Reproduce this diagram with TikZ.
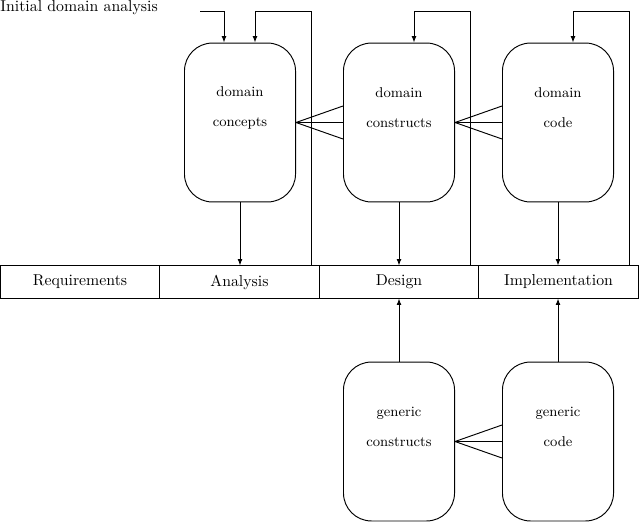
\documentclass[tikz,border=0pt]{standalone}
\usetikzlibrary{arrows.meta,calc}
\begin{document}
\begin{tikzpicture}[x=0.633pt,y=-0.633pt,
  line width=0.6pt,
  arr/.style={-{Latex[length=4pt,width=3pt]}},
  rbox/.style={draw,rounded corners=17.7pt,minimum width=70.3pt,minimum height=100.6pt,inner sep=0pt},
  cell/.style={draw,minimum width=101.1pt,minimum height=20.3pt,inner sep=0pt},
  lbl/.style={align=center,inner sep=0pt,font=\small}]
\useasboundingbox (0,0) rectangle (639,521);
% phase bar
\node[cell] (req) at (80,282) {Requirements};
\node[cell] (ana) at (239.5,282) {Analysis};
\node[cell] (des) at (399,282) {Design};
\node[cell] (imp) at (558.5,282) {Implementation};
% domain boxes
\node[rbox] (dcon) at (240,122.5) {};
\node[rbox] (dcst) at (399,122.5) {};
\node[rbox] (dcod) at (558,122.5) {};
\node[rbox] (gcst) at (399,441.5) {};
\node[rbox] (gcod) at (558,441.5) {};
\node[lbl] (t1) at (240,108) {domain\\[8pt]concepts};
\node[lbl] (t2) at (399,108) {domain\\[8pt]constructs};
\node[lbl] (t3) at (558,108) {domain\\[8pt]code};
\node[lbl] (t4) at (399,427) {generic\\[8pt]constructs};
\node[lbl] (t5) at (558,427) {generic\\[8pt]code};
% initial
\node[anchor=west,inner sep=0pt] (init) at (0,8) {Initial domain analysis};
\coordinate (i0) at (200,11);
\draw[arr] (i0) -| ($(dcon.north)+(-16,0)$);
% down arrows
\draw[arr] (dcon.south) -- (dcon.south |- ana.north);
\draw[arr] (dcst.south) -- (dcst.south |- des.north);
\draw[arr] (dcod.south) -- (dcod.south |- imp.north);
\draw[arr] (gcst.north) -- (gcst.north |- des.south);
\draw[arr] (gcod.north) -- (gcod.north |- imp.south);
% feedback loops
\coordinate (fa) at (311,11);
\coordinate (fd) at (470,11);
\coordinate (fi) at (629,11);
\draw[arr] (fa |- ana.north) -- (fa) -| ($(dcon.north)+(15,0)$);
\draw[arr] (fd |- des.north) -- (fd) -| ($(dcst.north)+(15,0)$);
\draw[arr] (fi |- imp.north) -- (fi) -| ($(dcod.north)+(15,0)$);
% crow's feet
\foreach \a/\b in {dcon/dcst,dcst/dcod,gcst/gcod}{
  \draw (\a.east) -- ($(\b.west)+(0,-16.5)$);
  \draw (\a.east) -- (\b.west);
  \draw (\a.east) -- ($(\b.west)+(0,16.5)$);
}
\end{tikzpicture}
\end{document}
